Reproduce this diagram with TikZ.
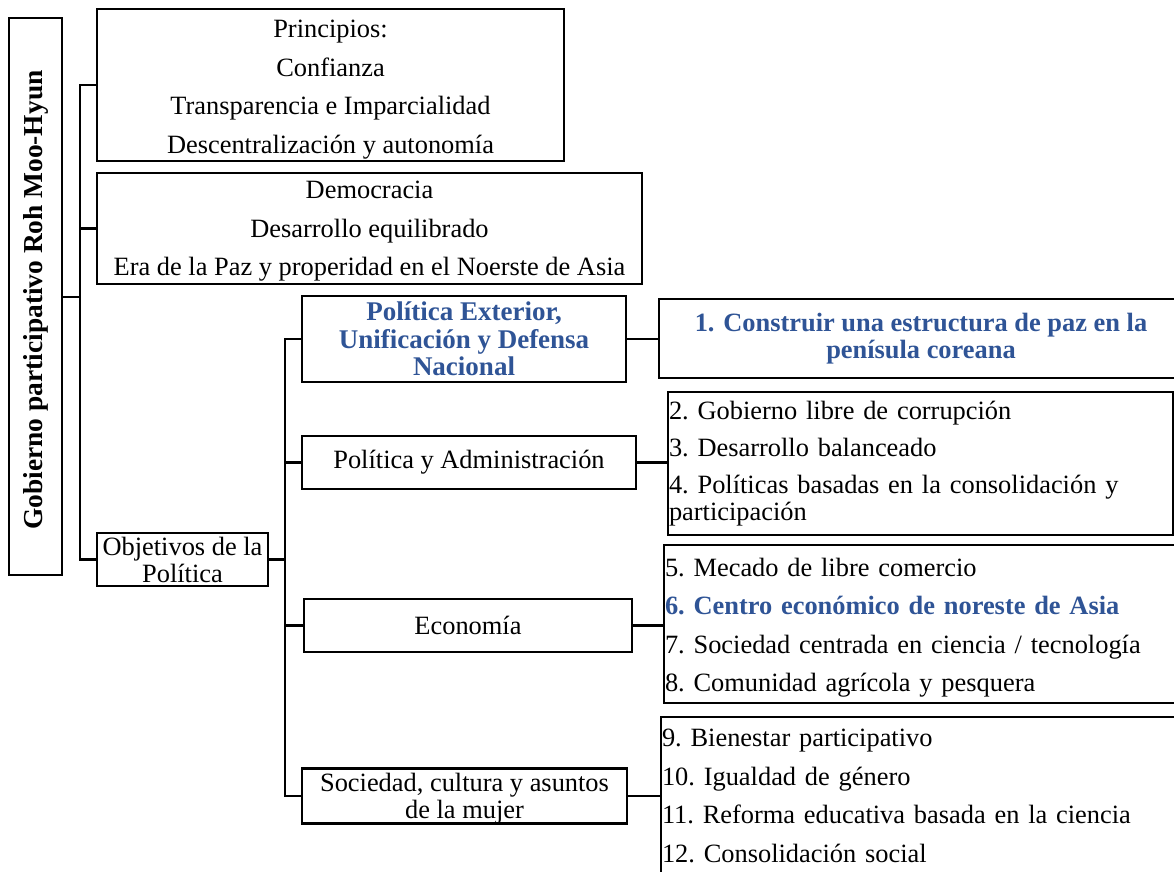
\documentclass[tikz,border=0pt]{standalone}
\usepackage{fontspec}
\setmainfont{Liberation Serif}
\definecolor{polblue}{HTML}{2F5496}
\tikzset{
	box/.style={draw,line width=2.8pt,inner sep=0pt,align=center,font=\fontsize{26.4}{27}\selectfont\frenchspacing},
	listbox/.style={draw,line width=2.2pt,inner xsep=1pt,inner ysep=0pt,align=left,font=\fontsize{26.4}{27}\selectfont\frenchspacing},
	link/.style={line width=2.8pt}
}
\begin{document}
\begin{tikzpicture}[x=1pt,y=-1pt]
		\useasboundingbox (0,0) rectangle (1174,871);
		\coordinate (j1) at (80,85);
		\coordinate (j2) at (285,339);
		\node[box,minimum width=53pt,minimum height=557pt] (root) at (35.5,296.5) {};
		\node[rotate=90,font=\fontsize{27.4}{28}\selectfont\bfseries] (roottext) at (35.5,300) {Gobierno participativo Roh Moo-Hyun};
		\node[box,minimum width=467pt,minimum height=152pt] (prin) at (330.5,85) {\rule{0pt}{27pt}Principios:\\[11.5pt]Confianza\\[11.5pt]Transparencia e Imparcialidad\\[11.5pt]Descentralización y autonomía};
		\node[box,minimum width=545pt,minimum height=111pt] (demo) at (369.5,228.5) {\rule{0pt}{23.5pt}Democracia\\[11.5pt]Desarrollo equilibrado\\[11.5pt]Era de la Paz y properidad en el Noerste de Asia};
		\node[box,minimum width=171pt,minimum height=53pt] (obj) at (182.5,559.5) {Objetivos de la\\Política};
		\node[box,minimum width=324pt,minimum height=86pt,text=polblue,font=\fontsize{27}{27.5}\selectfont\bfseries] (ext) at (464,339) {Política Exterior,\\Unificación y Defensa\\Nacional};
		\node[box,minimum width=334pt,minimum height=53pt] (adm) at (469,462.5) {Política y Administración};
		\node[box,minimum width=328pt,minimum height=53pt] (eco) at (468,625.5) {Economía};
		\node[box,minimum width=325pt,minimum height=54pt] (soc) at (464.5,796) {\rule{0pt}{23pt}Sociedad, cultura y asuntos\\de la mujer};
		\node[box,minimum width=524pt,minimum height=79pt,text=polblue,font=\fontsize{26.4}{26.5}\selectfont\bfseries] (g1) at (921,338.5) {1. Construir una estructura de paz en la\\penísula coreana};
		\node[listbox,minimum width=505pt,minimum height=143pt,text width=503pt] (g2) at (920.5,463.5) {2. Gobierno libre de corrupción\\[10pt]3. Desarrollo balanceado\\[10pt]4. Políticas basadas en la consolidación y\\participación};
		\node[listbox,minimum width=516pt,minimum height=158pt,text width=514pt] (g3) at (922,624) {\rule{0pt}{26pt}5. Mecado de libre comercio\\[11.5pt]{\bfseries\color{polblue}6. Centro económico de noreste de Asia}\\[11.5pt]7. Sociedad centrada en ciencia / tecnología\\[11.5pt]8. Comunidad agrícola y pesquera};
		\node[listbox,minimum width=518pt,minimum height=158pt,text width=516pt] (g4) at (920,796) {9. Bienestar participativo\\[11.5pt]10. Igualdad de género\\[11.5pt]11. Reforma educativa basada en la ciencia\\[11.5pt]12. Consolidación social};
		\draw[link] (root.east |- 0,297) -- (j1 |- 0,297);
		\draw[link] (prin.west) -- (j1) |- (obj.west);
		\draw[link] (demo.west) -- (demo.west -| j1);
		\draw[link] (obj.east) -- (obj.east -| j2);
		\draw[link] (ext.west) -- (j2) |- (soc.west);
		\draw[link] (adm.west) -- (adm.west -| j2);
		\draw[link] (eco.west) -- (eco.west -| j2);
		\draw[link] (ext.east) -- (ext.east -| g1.west);
		\draw[link] (adm.east) -- (adm.east -| g2.west);
		\draw[link] (eco.east) -- (eco.east -| g3.west);
		\draw[link] (soc.east) -- (soc.east -| g4.west);
	\end{tikzpicture}
\end{document}
